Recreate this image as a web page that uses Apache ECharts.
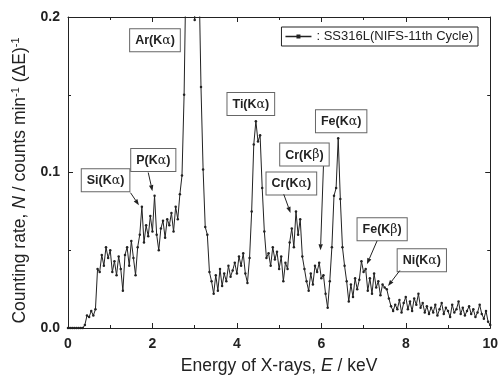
<!DOCTYPE html>
<html>
<head>
<meta charset="utf-8">
<script src="https://cdn.jsdelivr.net/npm/echarts/dist/echarts.min.js"></script>
<style>
  html, body { margin: 0; padding: 0; background: #fff; }
  #chart { width: 501px; height: 380px; }
</style>
</head>
<body>
<div id="chart"></div>
<script>
// SS316L X-ray spectrum (NIFS-11th cycle)
const energy = [
  0.00, 0.05, 0.10, 0.15, 0.20, 0.25, 0.30, 0.35, 0.40, 0.45,
  0.50, 0.55, 0.60, 0.65, 0.70, 0.75, 0.80, 0.85, 0.90, 0.95,
  1.00, 1.05, 1.10, 1.15, 1.20, 1.25, 1.30, 1.35, 1.40, 1.45,
  1.50, 1.55, 1.60, 1.65, 1.70, 1.75, 1.80, 1.85, 1.90, 1.95,
  2.00, 2.05, 2.10, 2.15, 2.20, 2.25, 2.30, 2.35, 2.40, 2.45,
  2.50, 2.55, 2.60, 2.65, 2.70, 2.75, 2.80, 2.85, 2.90, 2.95,
  3.00, 3.05, 3.10, 3.15, 3.20, 3.25, 3.30, 3.35, 3.40, 3.45,
  3.50, 3.55, 3.60, 3.65, 3.70, 3.75, 3.80, 3.85, 3.90, 3.95,
  4.00, 4.05, 4.10, 4.15, 4.20, 4.25, 4.30, 4.35, 4.40, 4.45,
  4.50, 4.55, 4.60, 4.65, 4.70, 4.75, 4.80, 4.85, 4.90, 4.95,
  5.00, 5.05, 5.10, 5.15, 5.20, 5.25, 5.30, 5.35, 5.40, 5.45,
  5.50, 5.55, 5.60, 5.65, 5.70, 5.75, 5.80, 5.85, 5.90, 5.95,
  6.00, 6.05, 6.10, 6.15, 6.20, 6.25, 6.30, 6.35, 6.40, 6.45,
  6.50, 6.55, 6.60, 6.65, 6.70, 6.75, 6.80, 6.85, 6.90, 6.95,
  7.00, 7.05, 7.10, 7.15, 7.20, 7.25, 7.30, 7.35, 7.40, 7.45,
  7.50, 7.55, 7.60, 7.65, 7.70, 7.75, 7.80, 7.85, 7.90, 7.95,
  8.00, 8.05, 8.10, 8.15, 8.20, 8.25, 8.30, 8.35, 8.40, 8.45,
  8.50, 8.55, 8.60, 8.65, 8.70, 8.75, 8.80, 8.85, 8.90, 8.95,
  9.00, 9.05, 9.10, 9.15, 9.20, 9.25, 9.30, 9.35, 9.40, 9.45,
  9.50, 9.55, 9.60, 9.65, 9.70, 9.75, 9.80, 9.85, 9.90, 9.95,
  10.00
];

const countRate = [
  0.000, 0.000, 0.000, 0.000, 0.000, 0.000, 0.000, 0.000, 0.002, 0.008,
  0.007, 0.011, 0.008, 0.012, 0.038, 0.036, 0.047, 0.040, 0.052, 0.045,
  0.050, 0.036, 0.043, 0.034, 0.046, 0.038, 0.024, 0.047, 0.052, 0.040,
  0.056, 0.045, 0.034, 0.052, 0.060, 0.078, 0.055, 0.066, 0.059, 0.072,
  0.062, 0.085, 0.060, 0.050, 0.064, 0.069, 0.058, 0.070, 0.066, 0.074,
  0.062, 0.078, 0.070, 0.086, 0.098, 0.150, 0.240, 0.290, 0.310, 0.300,
  0.198, 0.270, 0.230, 0.155, 0.102, 0.065, 0.060, 0.036, 0.030, 0.022,
  0.034, 0.024, 0.038, 0.027, 0.035, 0.030, 0.040, 0.033, 0.037, 0.042,
  0.035, 0.046, 0.040, 0.048, 0.035, 0.029, 0.045, 0.075, 0.118, 0.133,
  0.120, 0.124, 0.090, 0.062, 0.045, 0.048, 0.040, 0.052, 0.044, 0.049,
  0.038, 0.046, 0.030, 0.042, 0.038, 0.055, 0.064, 0.052, 0.075, 0.060,
  0.070, 0.046, 0.038, 0.030, 0.024, 0.035, 0.028, 0.040, 0.036, 0.042,
  0.032, 0.034, 0.022, 0.013, 0.030, 0.052, 0.085, 0.090, 0.122, 0.083,
  0.052, 0.040, 0.030, 0.017, 0.028, 0.020, 0.032, 0.025, 0.031, 0.043,
  0.036, 0.038, 0.024, 0.032, 0.022, 0.035, 0.026, 0.030, 0.021, 0.028,
  0.026, 0.025, 0.019, 0.014, 0.011, 0.015, 0.012, 0.018, 0.010, 0.016,
  0.020, 0.012, 0.017, 0.011, 0.019, 0.015, 0.022, 0.013, 0.016, 0.010,
  0.014, 0.009, 0.013, 0.010, 0.015, 0.008, 0.012, 0.016, 0.009, 0.013,
  0.011, 0.007, 0.015, 0.010, 0.012, 0.017, 0.009, 0.013, 0.008, 0.011,
  0.014, 0.009, 0.012, 0.007, 0.010, 0.015, 0.009, 0.006, 0.011, 0.004,
  0.002
];

const xTicks = [0, 2, 4, 6, 8, 10];
const yTicks = [0.0, 0.1, 0.2];

// peak labels: box centre and arrow (from -> to), all in data units
const peakNotes = [
  { text: "Ar(K", greek: "α", box: [2.06, 0.185] },
  { text: "Si(K", greek: "α", box: [0.89, 0.095], from: [1.48, 0.087], to: [1.68, 0.079] },
  { text: "P(K", greek: "α", box: [2.02, 0.108], from: [1.90, 0.100], to: [2.00, 0.088] },
  { text: "Ti(K", greek: "α", box: [4.33, 0.144] },
  { text: "Fe(K", greek: "α", box: [6.47, 0.133] },
  { text: "Cr(K", greek: "β", box: [5.60, 0.1115], from: [6.05, 0.104], to: [5.98, 0.050] },
  { text: "Cr(K", greek: "α", box: [5.29, 0.093], from: [5.11, 0.086], to: [5.27, 0.074] },
  { text: "Fe(K", greek: "β", box: [7.44, 0.0635], from: [7.32, 0.056], to: [7.08, 0.041] },
  { text: "Ni(K", greek: "α", box: [8.38, 0.0436], from: [7.86, 0.037], to: [7.58, 0.027] }
];

const ink = "#222";
const fontFamily = "Liberation Sans, Arial, sans-serif";

const seriesData = energy.map((e, i) => [e, countRate[i]]);

const boxAxis = {
  min: 0, max: 10, interval: 2,
  axisLine: { show: true, onZero: false, lineStyle: { color: ink, width: 1 } },
  axisTick: { show: true, inside: true, length: 5, lineStyle: { color: ink } },
  minorTick: { show: true, splitNumber: 2, length: 3, lineStyle: { color: ink } },
  splitLine: { show: false }
};

const option = {
  animation: false,
  textStyle: { fontFamily: fontFamily },
  grid: { left: 68, right: 6, top: 17, bottom: 51 },
  legend: {
    right: 23,
    top: 27,
    padding: [3, 5, 3, 4],
    borderColor: ink,
    borderWidth: 1,
    itemWidth: 26,
    itemHeight: 4,
    itemGap: 2,
    data: [{
      name: "SS316L(NIFS-11th Cycle)",
      icon: "path://M0,1.2H26V2.8H0Z M11,0H15V4H11Z"
    }],
    formatter: ": {name}",
    textStyle: { fontSize: 13, color: ink, fontFamily: fontFamily }
  },
  xAxis: [
    Object.assign({}, boxAxis, {
      type: "value",
      position: "bottom",
      name: "{t|Energy of X-rays, }{i|E}{t| / keV}",
      nameLocation: "middle",
      nameGap: 29,
      nameTextStyle: {
        rich: {
          t: { fontSize: 17.5, color: ink, fontFamily: fontFamily },
          i: { fontSize: 17.5, color: ink, fontStyle: "italic", fontFamily: fontFamily }
        }
      },
      axisLabel: {
        fontSize: 14, fontWeight: "bold", color: ink, margin: 9,
        formatter: (v) => xTicks.includes(v) ? String(v) : ""
      }
    }),
    Object.assign({}, boxAxis, {
      type: "value",
      position: "top",
      axisLabel: { show: false }
    })
  ],
  yAxis: [
    Object.assign({}, boxAxis, {
      type: "value",
      min: 0, max: 0.2, interval: 0.1,
      position: "left",
      name: "{t|Counting rate, }{i|N}{t| / counts min}{s|-1}{t| (ΔE)}{s|-1}",
      nameLocation: "middle",
      nameGap: 38,
      nameTextStyle: {
        padding: [0, 16, 0, 0],
        rich: {
          t: { fontSize: 17.5, color: ink, fontFamily: fontFamily, lineHeight: 20 },
          i: { fontSize: 17.5, color: ink, fontStyle: "italic", fontFamily: fontFamily, lineHeight: 20 },
          s: { fontSize: 11, color: ink, fontFamily: fontFamily, verticalAlign: "top", lineHeight: 20, padding: [0, 0, 8, 0] }
        }
      },
      axisLabel: {
        fontSize: 14, fontWeight: "bold", color: ink, margin: 8,
        formatter: (v) => yTicks.some((t) => Math.abs(t - v) < 1e-9) ? v.toFixed(1) : ""
      }
    }),
    Object.assign({}, boxAxis, {
      type: "value",
      min: 0, max: 0.2, interval: 0.1,
      position: "right",
      axisLabel: { show: false }
    })
  ],
  series: [
    {
      name: "SS316L(NIFS-11th Cycle)",
      type: "line",
      data: seriesData,
      xAxisIndex: 0,
      yAxisIndex: 0,
      clip: true,
      symbol: "circle",
      symbolSize: 2.5,
      lineStyle: { color: ink, width: 1 },
      itemStyle: { color: ink },
      emphasis: { disabled: true }
    }
  ]
};

const chart = echarts.init(document.getElementById("chart"), null, { renderer: "canvas" });
chart.setOption(option);

// peak label boxes and arrows
function drawNotes() {
  const px = (p) => chart.convertToPixel({ xAxisIndex: 0, yAxisIndex: 0 }, p);
  const graphics = [];
  peakNotes.forEach((n) => {
    const c = px(n.box);
    graphics.push({
      type: "text",
      x: c[0], y: c[1],
      z: 10,
      style: {
        text: "{b|" + n.text + "}{g|" + n.greek + "}{b|)}",
        align: "center",
        verticalAlign: "middle",
        backgroundColor: "#fff",
        borderColor: "#666",
        borderWidth: 1,
        padding: [5, 5, 4, 5],
        rich: {
          b: { fontSize: 12.5, fontWeight: "bold", fill: ink, fontFamily: fontFamily },
          g: { fontSize: 12.5, fill: ink, fontFamily: "DejaVu Serif, serif" }
        }
      }
    });
    if (n.from) {
      const a = px(n.from), b = px(n.to);
      const ang = Math.atan2(b[1] - a[1], b[0] - a[0]);
      const len = 6, wid = 2.2;
      const bx = b[0] - len * Math.cos(ang), by = b[1] - len * Math.sin(ang);
      graphics.push({
        type: "line", z: 10,
        shape: { x1: a[0], y1: a[1], x2: bx, y2: by },
        style: { stroke: ink, lineWidth: 1 }
      });
      graphics.push({
        type: "polygon", z: 10,
        shape: { points: [
          [b[0], b[1]],
          [bx + wid * Math.sin(ang), by - wid * Math.cos(ang)],
          [bx - wid * Math.sin(ang), by + wid * Math.cos(ang)]
        ] },
        style: { fill: ink }
      });
    }
  });
  chart.setOption({ graphic: graphics });
}
drawNotes();
window.addEventListener("resize", () => { chart.resize(); drawNotes(); });
</script>
</body>
</html>
